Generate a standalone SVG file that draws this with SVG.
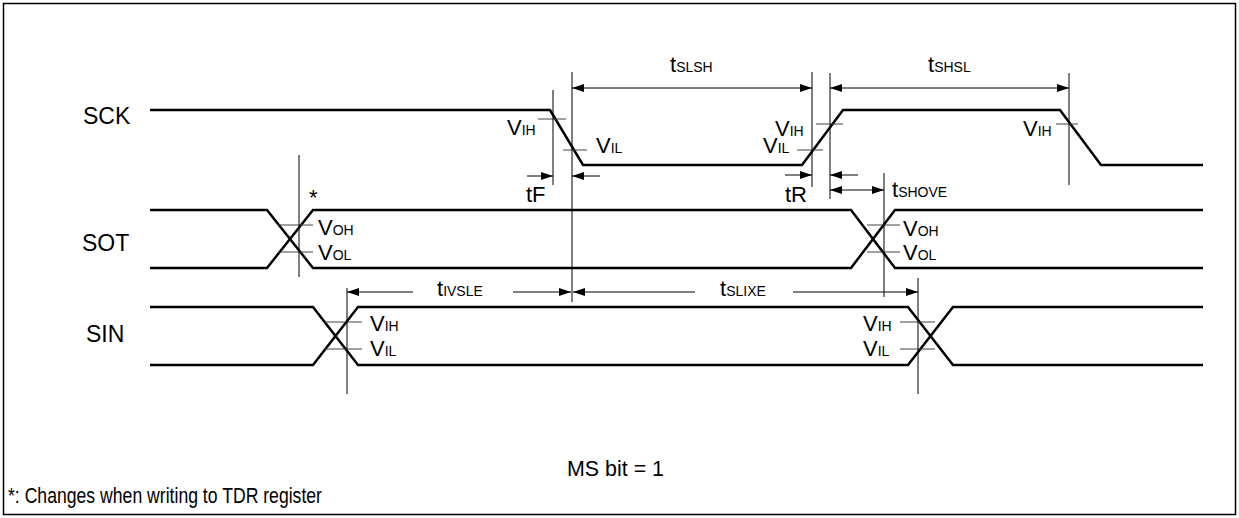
<svg xmlns="http://www.w3.org/2000/svg" width="1239" height="518" viewBox="0 0 1239 518">
<style>
.sig{stroke:#000;stroke-width:2.5;fill:none;stroke-linejoin:miter}
.thin{stroke:#000;stroke-width:1;fill:none}
.tick{stroke:#444;stroke-width:1;fill:none}
.dim{stroke:#000;stroke-width:1;fill:none}
.dbl{marker-start:url(#ah);marker-end:url(#ah)}
.one{marker-end:url(#ah)}
text{font-family:"Liberation Sans",Arial,sans-serif;font-size:22px;fill:#000}
.lbl{font-size:23px}
.sub{font-size:14px}
.note{font-size:21.5px}
</style>
<defs>
<marker id="ah" viewBox="0 0 12 8" refX="12" refY="4" markerWidth="12" markerHeight="8" markerUnits="userSpaceOnUse" orient="auto-start-reverse">
<path d="M0,0 L12,4 L0,8 z" fill="#000"/>
</marker>
</defs>
<rect x="3.5" y="3.5" width="1232" height="511" fill="#fff" stroke="#000" stroke-width="1.5"/>

<g id="SCK">
<text class="lbl" x="83" y="124">SCK</text>
<path class="sig" d="M150,110 H550 L583,165 H802 L843,110 H1060 L1101,165 H1203"/>
<path class="tick" d="M538,119 H566 M563,150 H587 M816,124 H843 M797,150 H823 M1056,124 H1078"/>
<text x="507" y="135">V<tspan class="sub">IH</tspan></text>
<text x="596" y="153">V<tspan class="sub">IL</tspan></text>
<text x="775" y="136">V<tspan class="sub">IH</tspan></text>
<text x="763" y="153">V<tspan class="sub">IL</tspan></text>
<text x="1023" y="136">V<tspan class="sub">IH</tspan></text>
</g>

<g id="SOT">
<text class="lbl" x="82" y="251">SOT</text>
<path class="sig" d="M150,210 H267 L313,268 H851 L895,210 H1203"/>
<path class="sig" d="M150,268 H267 L313,210 H851 L895,268 H1203"/>
<path class="tick" d="M278,225 H313 M278,252 H313 M867,225 H900 M867,252 H900"/>
<text x="309" y="205" font-size="24">*</text>
<text x="318" y="235">V<tspan class="sub">OH</tspan></text>
<text x="318" y="260">V<tspan class="sub">OL</tspan></text>
<text x="903" y="236">V<tspan class="sub">OH</tspan></text>
<text x="903" y="260">V<tspan class="sub">OL</tspan></text>
</g>

<g id="SIN">
<text class="lbl" x="86" y="342">SIN</text>
<path class="sig" d="M150,307 H313 L358,365 H908 L953,307 H1203"/>
<path class="sig" d="M150,365 H313 L358,307 H908 L953,365 H1203"/>
<path class="tick" d="M325,322 H362 M325,349 H362 M900,322 H935 M900,349 H935"/>
<text x="370" y="331">V<tspan class="sub">IH</tspan></text>
<text x="370" y="356">V<tspan class="sub">IL</tspan></text>
<text x="863" y="331">V<tspan class="sub">IH</tspan></text>
<text x="863" y="356">V<tspan class="sub">IL</tspan></text>
</g>

<g id="connectors">
<path class="thin" d="M553,90 V185 M572,72 V302 M812,72 V187 M830,73 V199 M1069,73 V185 M299,155 V277 M884,173 V297 M347,288 V394 M918,278 V394"/>
<line class="dim dbl" x1="572" y1="88" x2="812" y2="88"/>
<line class="dim dbl" x1="830" y1="88" x2="1069" y2="88"/>
<line class="dim one" x1="527" y1="176" x2="553" y2="176"/>
<line class="dim one" x1="600" y1="176" x2="572" y2="176"/>
<line class="dim one" x1="785" y1="175" x2="812" y2="175"/>
<line class="dim one" x1="858" y1="175" x2="830" y2="175"/>
<line class="dim dbl" x1="830" y1="190" x2="884" y2="190"/>
<line class="dim one" x1="413" y1="292" x2="347" y2="292"/>
<line class="dim one" x1="513" y1="292" x2="571" y2="292"/>
<line class="dim one" x1="695" y1="292" x2="573" y2="292"/>
<line class="dim one" x1="793" y1="292" x2="918" y2="292"/>
<text x="670" y="72">t<tspan class="sub">SLSH</tspan></text>
<text x="928" y="72">t<tspan class="sub">SHSL</tspan></text>
<text x="526" y="202">tF</text>
<text x="785" y="202">tR</text>
<text x="892" y="197">t<tspan class="sub">SHOVE</tspan></text>
<text x="437" y="296">t<tspan class="sub">IVSLE</tspan></text>
<text x="720" y="296">t<tspan class="sub">SLIXE</tspan></text>
</g>

<text class="note" x="567" y="476" textLength="97" lengthAdjust="spacingAndGlyphs">MS bit = 1</text>
<text class="note" x="8" y="503" textLength="314" lengthAdjust="spacingAndGlyphs">*: Changes when writing to TDR register</text>
</svg>
